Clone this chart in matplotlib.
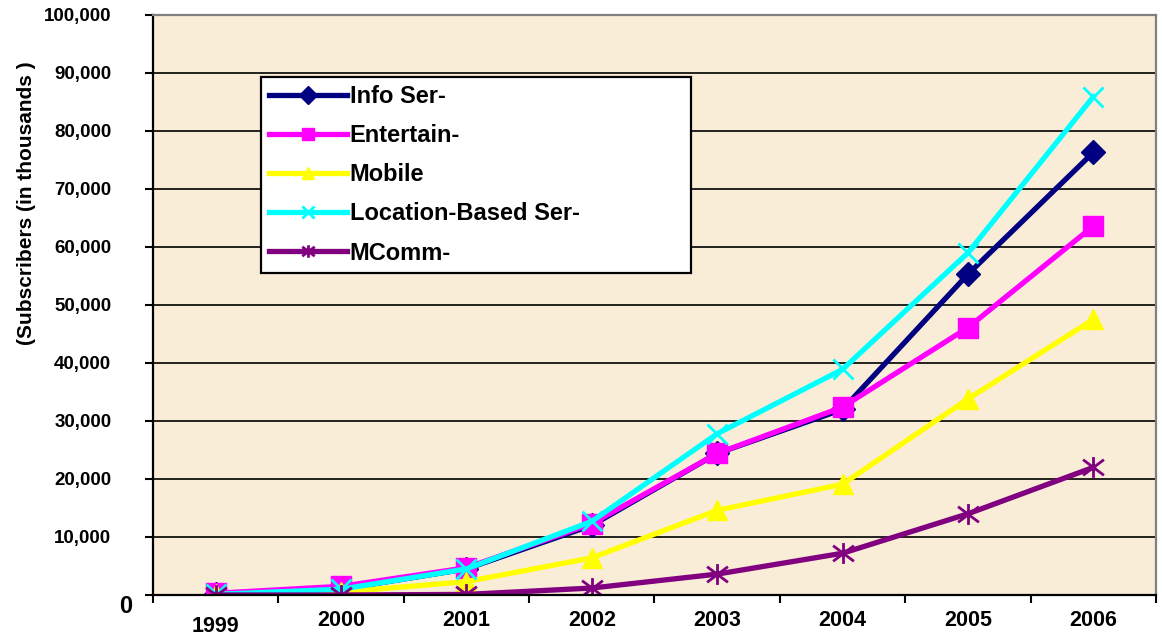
import matplotlib
matplotlib.use("Agg")
import matplotlib.pyplot as plt
from matplotlib.path import Path
import numpy as np

plt.rcParams["font.family"] = ["Liberation Sans", "DejaVu Sans"]
plt.rcParams["font.weight"] = "bold"

# === data (subscribers, thousands) ===
years = ["1999", "2000", "2001", "2002", "2003", "2004", "2005", "2006"]
info_ser = [200, 1000, 4500, 12000, 24400, 32000, 55300, 76300]
entertain = [300, 1500, 4700, 12300, 24400, 32400, 46100, 63600]
mobile = [100, 500, 2300, 6400, 14600, 19100, 33800, 47500]
location = [100, 1000, 4500, 12700, 27800, 38900, 59000, 85900]
mcomm = [0, 0, 100, 1200, 3600, 7200, 14000, 22000]

y_ticks = [0, 10000, 20000, 30000, 40000, 50000, 60000, 70000, 80000, 90000, 100000]

# asterisk marker like excel (vertical bar + X)
star = Path(
    [(0, -1), (0, 1), (-1, -0.75), (1, 0.75), (-1, 0.75), (1, -0.75)],
    [Path.MOVETO, Path.LINETO, Path.MOVETO, Path.LINETO, Path.MOVETO, Path.LINETO],
)

series = [
    ("Info Ser-", info_ser, "#000080", dict(marker="D", ms=12, mec="#000080")),
    ("Entertain-", entertain, "#FF00FF", dict(marker="s", ms=14, mec="#FF00FF")),
    ("Mobile", mobile, "#FFFF00", dict(marker="^", ms=15, mec="#FFFF00")),
    ("Location-Based Ser-", location, "#00FFFF", dict(marker="x", ms=15, mew=2, mec="#00FFFF")),
    ("MComm-", mcomm, "#800080", dict(marker=star, ms=15, mew=2, mec="#800080")),
]

fig = plt.figure(figsize=(11.62, 6.35), dpi=100)
ax = fig.add_axes([0.1317, 0.0630, 0.8631, 0.9134])
ax.set_facecolor("#FAEDD7")

x = np.arange(len(years))
for name, vals, col, mk in series:
    ax.plot(x, vals, color=col, lw=3.8, label=name, **mk)

ax.set_xlim(-0.5, len(years) - 0.5)
ax.set_ylim(0, 100000)

# gridlines
ax.set_yticks(y_ticks)
ax.set_yticklabels(["{:,}".format(v) for v in y_ticks])
ax.yaxis.grid(True, color="black", lw=1.2)
ax.set_axisbelow(True)

ax.set_xticks(x)
ax.set_xticklabels(years)
ax.set_xticks(np.arange(-0.5, len(years)), minor=True)
ax.tick_params(axis="x", which="major", length=0, pad=11, labelsize=15.5)
ax.tick_params(axis="x", which="minor", length=6, width=1.5, direction="out")
ax.tick_params(axis="y", length=6, width=1.5, pad=24, labelsize=13.5)

# small oddities of the original tick labels
ax.xaxis.get_major_ticks()[0].set_pad(15)
t0 = ax.yaxis.get_major_ticks()[0]
t0.set_pad(9)
t0.label1.set_fontsize(17)
t0.label1.set_va("top")

for s in ["left", "bottom"]:
    ax.spines[s].set_color("black")
    ax.spines[s].set_linewidth(1.6)
for s in ["top", "right"]:
    ax.spines[s].set_color("#808080")
    ax.spines[s].set_linewidth(1.6)

ax.set_ylabel("(Subscribers (in thousands )", fontsize=15, fontweight="bold")
ax.yaxis.set_label_coords(-0.117, 0.676)

leg = ax.legend(
    loc="upper left",
    bbox_to_anchor=(0.1077, 0.893, 0.4283, 0.0),
    mode="expand",
    fontsize=17,
    handlelength=3.3,
    handletextpad=0.1,
    labelspacing=0.68,
    borderaxespad=0,
    borderpad=0.35,
    fancybox=False,
    framealpha=1,
    edgecolor="black",
)
leg.get_frame().set_linewidth(1.6)
for h in leg.legend_handles:
    h.set_markersize(9)

fig.savefig("out.png", dpi=100)
